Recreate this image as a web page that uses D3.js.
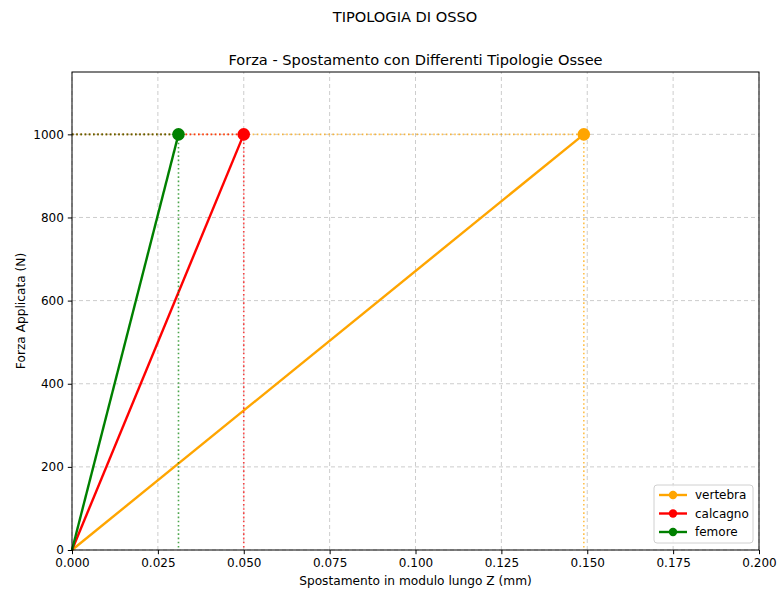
<!DOCTYPE html>
<html>
<head>
<meta charset="utf-8">
<script src="https://cdn.jsdelivr.net/npm/d3@7"></script>
<style>
  body { margin: 0; background: #fff; }
  svg { font-family: "DejaVu Sans", sans-serif; }
</style>
</head>
<body>
<svg id="chart" width="779" height="589"></svg>
<script>
// Bone types and their displacement at the applied load
const boneNames = ["vertebra", "calcagno", "femore"];
const boneColors = ["#ffa500", "#ff0000", "#008000"];
const displacement = [0.149, 0.050, 0.031];   // mm
const appliedForce = [1000, 1000, 1000];      // N
const xTicks = [0, 0.025, 0.05, 0.075, 0.1, 0.125, 0.15, 0.175, 0.2];
const yTicks = [0, 200, 400, 600, 800, 1000];

const svg = d3.select("#chart");
const m = { left: 72, right: 20, top: 72, bottom: 39 };
const W = 779, H = 589;

const x = d3.scaleLinear().domain([0, 0.2]).range([m.left, W - m.right]);
const y = d3.scaleLinear().domain([0, 1150]).range([H - m.bottom, m.top]);

// grid
const grid = svg.append("g");
grid.selectAll(".gx").data(xTicks).enter().append("line")
  .attr("x1", d => x(d)).attr("x2", d => x(d))
  .attr("y1", y(0)).attr("y2", y(1150))
  .attr("stroke", "#b0b0b0").attr("stroke-opacity", 0.7)
  .attr("stroke-width", 0.9).attr("stroke-dasharray", "4,3");
grid.selectAll(".gy").data(yTicks).enter().append("line")
  .attr("x1", x(0)).attr("x2", x(0.2))
  .attr("y1", d => y(d)).attr("y2", d => y(d))
  .attr("stroke", "#b0b0b0").attr("stroke-opacity", 0.7)
  .attr("stroke-width", 0.9).attr("stroke-dasharray", "4,3");

// series: guide lines, force-displacement line, end marker
boneNames.forEach((name, i) => {
  const g = svg.append("g");
  const px = x(displacement[i]), py = y(appliedForce[i]);
  g.append("line")
    .attr("x1", x(0)).attr("x2", px).attr("y1", py).attr("y2", py)
    .attr("stroke", boneColors[i]).attr("stroke-opacity", 0.7)
    .attr("stroke-width", 1.6).attr("stroke-dasharray", "1.6,2.6");
  g.append("line")
    .attr("x1", px).attr("x2", px).attr("y1", py).attr("y2", y(0))
    .attr("stroke", boneColors[i]).attr("stroke-opacity", 0.7)
    .attr("stroke-width", 1.6).attr("stroke-dasharray", "1.6,2.6");
  g.append("line")
    .attr("x1", x(0)).attr("y1", y(0)).attr("x2", px).attr("y2", py)
    .attr("stroke", boneColors[i]).attr("stroke-width", 2.4);
  g.append("circle")
    .attr("cx", px).attr("cy", py).attr("r", 6.3)
    .attr("fill", boneColors[i]);
});

// axes frame
svg.append("rect")
  .attr("x", x(0)).attr("y", y(1150))
  .attr("width", x(0.2) - x(0)).attr("height", y(0) - y(1150))
  .attr("fill", "none").attr("stroke", "#000").attr("stroke-width", 1);

const xAxis = svg.append("g")
  .attr("transform", `translate(0,${y(0)})`)
  .call(d3.axisBottom(x).tickValues(xTicks).tickFormat(d3.format(".3f")).tickSize(4.2).tickPadding(4));
const yAxis = svg.append("g")
  .attr("transform", `translate(${x(0)},0)`)
  .call(d3.axisLeft(y).tickValues(yTicks).tickFormat(d3.format("d")).tickSize(4.2).tickPadding(4));
[xAxis, yAxis].forEach(a => {
  a.select(".domain").remove();
  a.selectAll("text").attr("font-size", 12).attr("fill", "#000")
    .attr("font-family", "DejaVu Sans");
  a.selectAll("line").attr("stroke", "#000");
});

// titles and axis labels
svg.append("text").attr("x", 405).attr("y", 22).attr("text-anchor", "middle")
  .attr("font-size", 14.6).text("TIPOLOGIA DI OSSO");
svg.append("text").attr("x", (x(0) + x(0.2)) / 2).attr("y", 65).attr("text-anchor", "middle")
  .attr("font-size", 14.6).text("Forza - Spostamento con Differenti Tipologie Ossee");
svg.append("text").attr("x", (x(0) + x(0.2)) / 2).attr("y", 585).attr("text-anchor", "middle")
  .attr("font-size", 12.2).text("Spostamento in modulo lungo Z (mm)");
svg.append("text")
  .attr("transform", `translate(25,${(y(0) + y(1150)) / 2}) rotate(-90)`)
  .attr("text-anchor", "middle").attr("font-size", 12.2).text("Forza Applicata (N)");

// legend
const lg = svg.append("g").attr("transform", "translate(654,485)");
lg.append("rect").attr("width", 99).attr("height", 58).attr("rx", 3)
  .attr("fill", "#fff").attr("fill-opacity", 0.8).attr("stroke", "#d0d0d0");
boneNames.forEach((name, i) => {
  const yy = 10 + i * 18.5;
  lg.append("line").attr("x1", 5).attr("x2", 33).attr("y1", yy).attr("y2", yy)
    .attr("stroke", boneColors[i]).attr("stroke-width", 2.4);
  lg.append("circle").attr("cx", 19).attr("cy", yy).attr("r", 4.2).attr("fill", boneColors[i]);
  lg.append("text").attr("x", 41).attr("y", yy + 4).attr("font-size", 12).text(name);
});
</script>
</body>
</html>
